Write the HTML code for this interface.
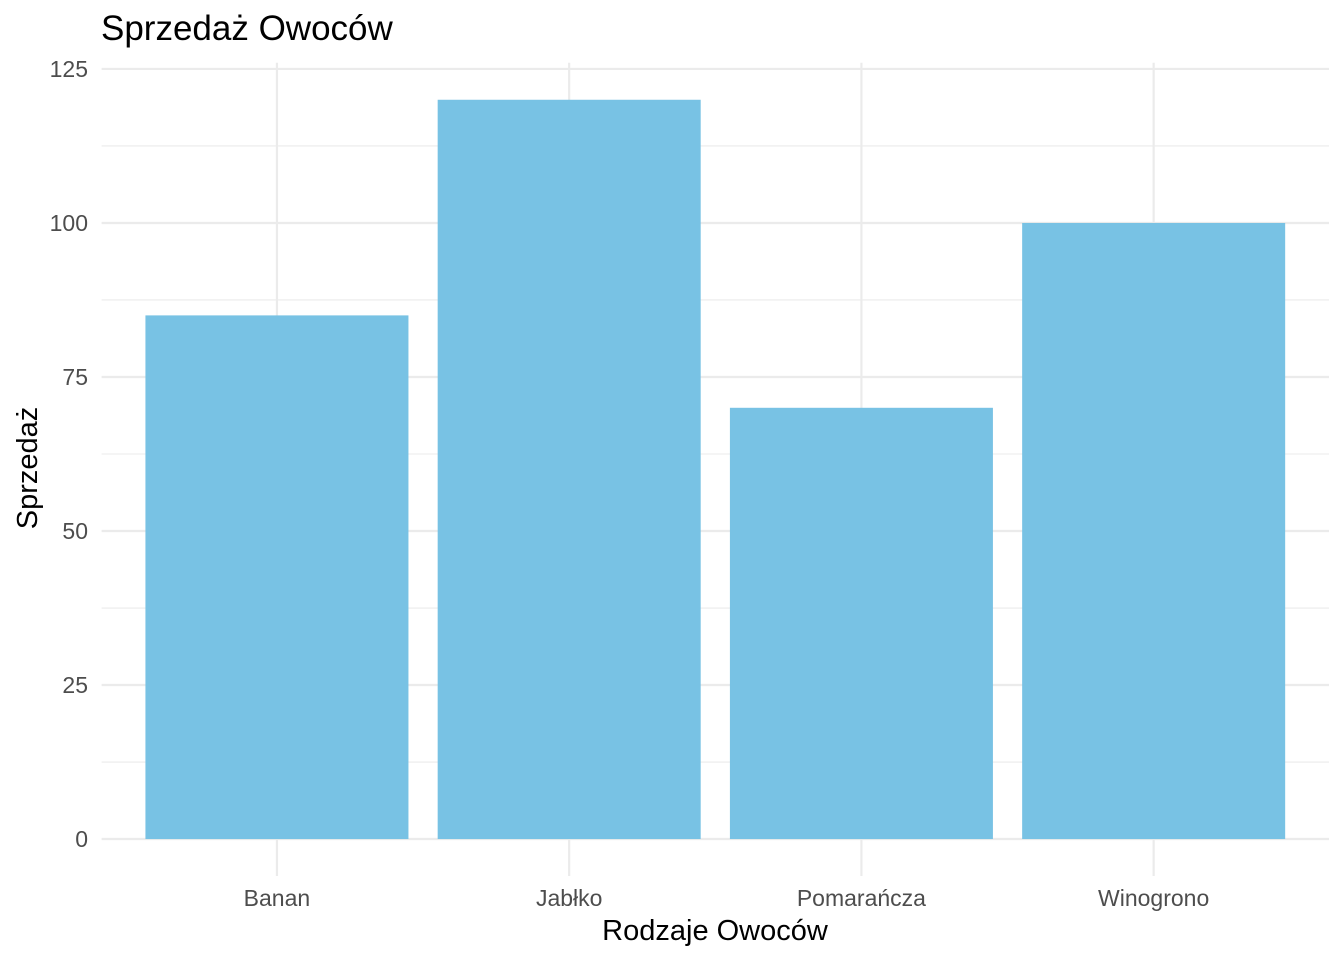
<!DOCTYPE html>
<html><head><meta charset="utf-8"><style>
body{margin:0;background:#fff;}
svg{display:block;font-family:"Liberation Sans",Arial,sans-serif;}
</style></head><body>
<svg id="chart" width="1344" height="960" viewBox="0 0 1344 960" xmlns="http://www.w3.org/2000/svg">
<text x="101" y="40" font-size="35" fill="#000">Sprzedaż Owoców</text>
<g id="grid"></g><g id="bars"></g><g id="labels"></g>
<text x="715" y="940" font-size="29" text-anchor="middle" fill="#000">Rodzaje Owoców</text>
<text transform="translate(37,468) rotate(-90)" font-size="29" text-anchor="middle" fill="#000">Sprzedaż</text>
</svg>
<script>
const categories=["Banan","Jabłko","Pomarańcza","Winogrono"];
const sales=[85,120,70,100];
const yTicks=[0,25,50,75,100,125];
const NS="http://www.w3.org/2000/svg";
const panelL=101.6,panelR=1329,panelT=62.8,panelB=876;
const yMin=-6,yMax=126;
function y(v){return panelB-(v-yMin)/(yMax-yMin)*(panelB-panelT);}
const step=(panelR-panelL)/(categories.length+0.2);
function x(i){return panelL+step*(0.6+i);}
function mk(tag,attrs,parent){const e=document.createElementNS(NS,tag);for(const k in attrs)e.setAttribute(k,attrs[k]);parent.appendChild(e);return e;}
const grid=document.getElementById('grid'),bars=document.getElementById('bars'),labels=document.getElementById('labels');
for(let i=0;i<yTicks.length-1;i++){const m=(yTicks[i]+yTicks[i+1])/2;
const l=mk('line',{x1:panelL,x2:panelR,y1:y(m),y2:y(m),stroke:'#ebebeb','stroke-width':1.1},grid);

}
yTicks.forEach(t=>{const l=mk('line',{x1:panelL,x2:panelR,y1:y(t),y2:y(t),stroke:'#ebebeb','stroke-width':2.2},grid);


const tx=mk('text',{x:88,y:y(t)+8,'font-size':23,'text-anchor':'end',fill:'#4d4d4d'},labels);tx.textContent=t;

});
categories.forEach((c,i)=>{const l=mk('line',{x1:x(i),x2:x(i),y1:panelT,y2:panelB,stroke:'#ebebeb','stroke-width':2.2},grid);


const w=step*0.9;
const r=mk('rect',{x:x(i)-w/2,y:y(sales[i]),width:w,height:y(0)-y(sales[i]),fill:'#78c2e4'},bars);


const tx=mk('text',{x:x(i),y:906,'font-size':23,'text-anchor':'middle',fill:'#4d4d4d'},labels);tx.textContent=c;

});
</script>
</body></html>
